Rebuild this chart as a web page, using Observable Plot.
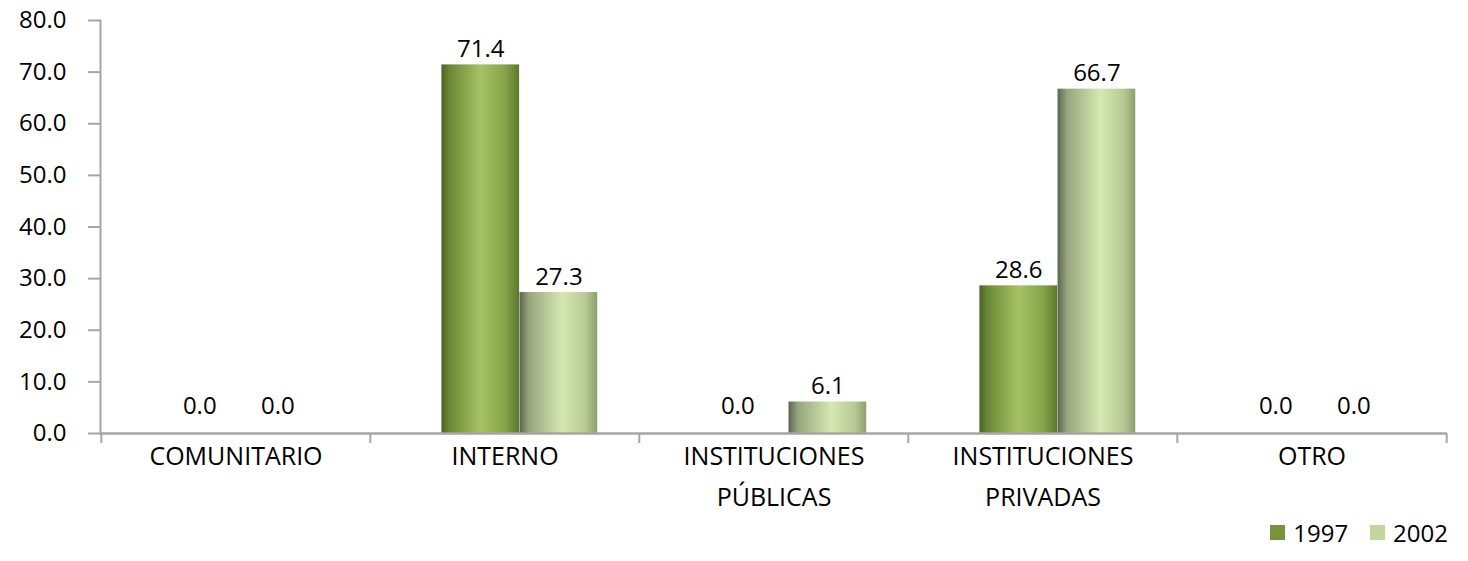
<!DOCTYPE html>
<html>
<head>
<meta charset="utf-8">
<script src="https://cdn.jsdelivr.net/npm/d3@7"></script>
<script src="https://cdn.jsdelivr.net/npm/@observablehq/plot@0.6"></script>
<style>
  html, body { margin: 0; padding: 0; background: #fff; }
  body { width: 1468px; height: 561px; overflow: hidden; font-family: "Open Sans", sans-serif; }
  #legend { display: flex; justify-content: flex-end; align-items: center; gap: 22px; padding-right: 20px; font-size: 24px; color: #000; height: 41px; margin-top: -8px; }
  #legend .item { display: flex; align-items: center; gap: 8px; }
  #legend .sw { width: 15px; height: 15px; display: inline-block; }
</style>
</head>
<body>
<div id="chart"></div>
<div id="legend"></div>
<script>
// ---- data ----
const categories = ["COMUNITARIO", "INTERNO", "INSTITUCIONES\nPÚBLICAS", "INSTITUCIONES\nPRIVADAS", "OTRO"];
const series = ["1997", "2002"];
const values1997 = [0.0, 71.4, 0.0, 28.6, 0.0];
const values2002 = [0.0, 27.3, 6.1, 66.7, 0.0];
const yTicks = [0, 10, 20, 30, 40, 50, 60, 70, 80];
const legendColors = ["#77933c", "#c3d69b"];

const rows1997 = categories.map((c, i) => ({cat: c, year: "1997", value: values1997[i]}));
const rows2002 = categories.map((c, i) => ({cat: c, year: "2002", value: values2002[i]}));

const W = 1468, H = 520, mL = 100, mR = 21, mT = 20, mB = 87;
const bw = (W - mL - mR) / categories.length;
// bar layout within each category band (fractions of band)
const b1L = 0.265 * bw, b1R = 0.555 * bw, b2L = 0.555 * bw, b2R = 0.845 * bw;
const c1 = (b1L + b1R) / 2 - bw / 2, c2 = (b2L + b2R) / 2 - bw / 2;

const fontFam = "'Open Sans', sans-serif";
const FS = 24;

function labelMarks(rows, dx) {
  return [
    Plot.text(rows.filter(d => d.value !== 0), {x: "cat", y: "value", text: d => d.value.toFixed(1), dx, dy: -8, lineAnchor: "bottom", fontSize: FS, fill: "#000"}),
    Plot.text(rows.filter(d => d.value === 0), {x: "cat", y: "value", text: d => d.value.toFixed(1), dx: dx - 12, dy: -20, lineAnchor: "bottom", fontSize: FS, fill: "#000"})
  ];
}

const plot = Plot.plot({
  width: W, height: H,
  marginLeft: mL, marginRight: mR, marginTop: mT, marginBottom: mB,
  style: {fontFamily: fontFam, fontSize: FS + "px", color: "#000", background: "#fff"},
  x: {domain: categories, padding: 0, axis: null},
  y: {domain: [0, 80], axis: null},
  marks: [
    Plot.frame({anchor: "left", stroke: "#a6a6a6", strokeWidth: 2}),
    Plot.axisY(yTicks, {tickSize: 12, tickPadding: 22, tickFormat: d => d.toFixed(1), stroke: "#a6a6a6", strokeWidth: 2, fill: "#000", fontSize: FS, label: null}),
    Plot.barY(rows1997, {x: "cat", y: "value", fill: "url(#g1997)", insetLeft: b1L, insetRight: bw - b1R}),
    Plot.barY(rows2002, {x: "cat", y: "value", fill: "url(#g2002)", insetLeft: b2L, insetRight: bw - b2R}),
    Plot.ruleY([0], {stroke: "#a6a6a6", strokeWidth: 2.5}),
    Plot.ruleX(categories, {x: d => d, y1: 0, y2: 0, insetBottom: -10, dx: -bw / 2, stroke: "#a6a6a6", strokeWidth: 2}),
    Plot.ruleX(categories.slice(-1), {x: d => d, y1: 0, y2: 0, insetBottom: -10, dx: bw / 2, stroke: "#a6a6a6", strokeWidth: 2}),
    ...labelMarks(rows1997, c1),
    ...labelMarks(rows2002, c2),
    Plot.axisX(categories, {tickSize: 0, tickPadding: 2, fontSize: 25, lineHeight: 1.64, fill: "#000", label: null})
  ]
});

// gradient defs for the cylinder-like shading
const ns = "http://www.w3.org/2000/svg";
const defs = document.createElementNS(ns, "defs");
function grad(id, stops) {
  const g = document.createElementNS(ns, "linearGradient");
  g.setAttribute("id", id);
  g.setAttribute("x1", "0"); g.setAttribute("x2", "1"); g.setAttribute("y1", "0"); g.setAttribute("y2", "0");
  stops.forEach(([o, c]) => {
    const s = document.createElementNS(ns, "stop");
    s.setAttribute("offset", o); s.setAttribute("stop-color", c);
    g.appendChild(s);
  });
  defs.appendChild(g);
}
grad("g1997", [["0%", "#4b6425"], ["10%", "#6a8736"], ["50%", "#a5c264"], ["82%", "#86a449"], ["100%", "#5c782d"]]);
grad("g2002", [["0%", "#5b6650"], ["12%", "#97a57e"], ["55%", "#d5e8b1"], ["85%", "#b7ca94"], ["100%", "#8d9e70"]]);
plot.insertBefore(defs, plot.firstChild);

document.getElementById("chart").appendChild(plot);

const legend = document.getElementById("legend");
series.forEach((s, i) => {
  const item = document.createElement("div");
  item.className = "item";
  const sw = document.createElement("span");
  sw.className = "sw";
  sw.style.background = legendColors[i];
  const t = document.createElement("span");
  t.textContent = s;
  item.appendChild(sw); item.appendChild(t);
  legend.appendChild(item);
});
</script>
</body>
</html>
